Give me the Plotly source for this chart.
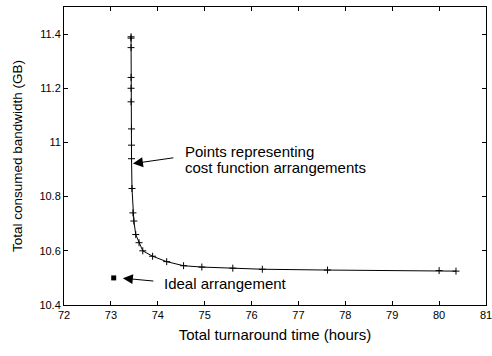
import plotly.graph_objects as go

turnaround = [73.43, 73.43, 73.43, 73.43, 73.43, 73.43, 73.44, 73.44, 73.44, 73.45,
              73.47, 73.49, 73.53, 73.60, 73.68, 73.89, 74.19, 74.55, 74.94, 75.60,
              76.23, 77.62, 80.00, 80.36]
bandwidth = [11.39, 11.385, 11.35, 11.24, 11.20, 11.15, 11.05, 10.99, 10.94, 10.83,
             10.74, 10.71, 10.66, 10.63, 10.60, 10.58, 10.56, 10.545, 10.54, 10.536,
             10.532, 10.529, 10.527, 10.525]
ideal_x = [73.06]
ideal_y = [10.50]

font = "Liberation Sans, Arial, sans-serif"

fig = go.Figure()
fig.add_trace(go.Scatter(
    x=turnaround, y=bandwidth, mode="lines+markers",
    line=dict(color="black", width=1),
    marker=dict(symbol="cross-thin", size=5, line=dict(color="black", width=1)),
    showlegend=False))
fig.add_trace(go.Scatter(
    x=ideal_x, y=ideal_y, mode="markers",
    marker=dict(symbol="square", size=5, color="black"),
    showlegend=False))

fig.add_annotation(x=73.47, y=10.922, xref="x", yref="y", ax=42, ay=-6,
                   axref="pixel", ayref="pixel", text="", showarrow=True,
                   arrowhead=2, arrowsize=2, arrowwidth=1, arrowcolor="black")
fig.add_annotation(x=73.255, y=10.499, xref="x", yref="y", ax=32, ay=3,
                   axref="pixel", ayref="pixel", text="", showarrow=True,
                   arrowhead=2, arrowsize=2, arrowwidth=1, arrowcolor="black")
fig.add_annotation(x=74.53, y=10.966, xref="x", yref="y", showarrow=False,
                   text="Points representing", xanchor="left", yanchor="middle",
                   font=dict(family=font, size=15, color="black"))
fig.add_annotation(x=74.53, y=10.907, xref="x", yref="y", showarrow=False,
                   text="cost function arrangements", xanchor="left", yanchor="middle",
                   font=dict(family=font, size=15, color="black"))
fig.add_annotation(x=74.085, y=10.481, xref="x", yref="y", showarrow=False,
                   text="Ideal arrangement", xanchor="left", yanchor="middle",
                   font=dict(family=font, size=15, color="black"))

axis_common = dict(showgrid=False, zeroline=False, showline=True, linecolor="black",
                   linewidth=1, mirror="ticks", ticks="inside", ticklen=4,
                   tickcolor="black", ticklabeloverflow="allow", automargin=False,
                   tickfont=dict(family=font, size=11, color="black"))
fig.update_xaxes(range=[72, 81], dtick=1, tick0=72,
                 title=dict(text="Total turnaround time (hours)",
                            font=dict(family=font, size=15, color="black"), standoff=9),
                 **axis_common)
fig.update_yaxes(range=[10.4, 11.5], tickvals=[10.4, 10.6, 10.8, 11.0, 11.2, 11.4],
                 ticktext=["10.4", "10.6", "10.8", "11", "11.2", "11.4"],
                 title=dict(text="Total consumed bandwidth (GB)",
                            font=dict(family=font, size=13.5, color="black"), standoff=13),
                 **axis_common)
fig.update_layout(width=492, height=356, margin=dict(l=64, r=6, t=7, b=51),
                  plot_bgcolor="white", paper_bgcolor="white")
fig.write_html("out.html", config={"displayModeBar": False},
               post_script="document.body.style.margin='0';")
